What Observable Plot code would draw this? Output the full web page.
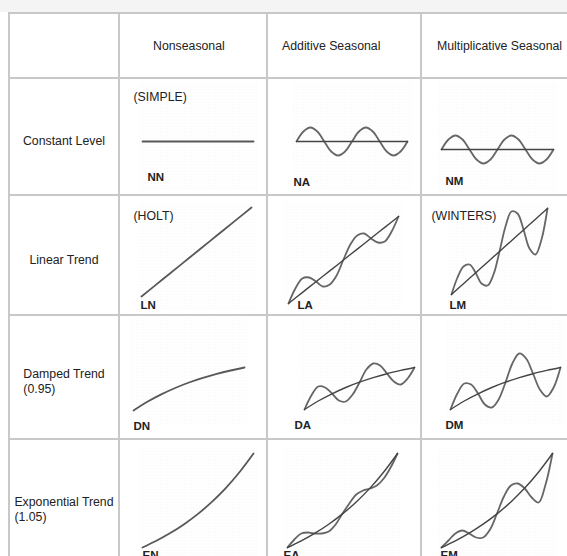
<!DOCTYPE html>
<html><head><meta charset="utf-8">
<script src="https://cdn.jsdelivr.net/npm/d3@7"></script>
<script src="https://cdn.jsdelivr.net/npm/@observablehq/plot@0.6"></script>
<style>
html,body{margin:0;padding:0;background:#fff;overflow:hidden;width:567px;height:556px;}
body{font-family:"Liberation Sans",Arial,sans-serif;color:#222;font-size:12.3px;position:relative}
#strip{position:absolute;left:0;top:0;width:567px;height:12px;background:#f4f4f4}
#grid{position:absolute;left:8px;top:12px;display:grid;grid-template-columns:108px 146px 152px 160px;grid-template-rows:63px 115px 118px 122px 130px;gap:2px;padding:2px;background:#c8c8c8}
.cell{background:#fff;position:relative;overflow:hidden}
.head{display:flex;align-items:center;box-sizing:border-box}
.rowlab{display:flex;align-items:center;justify-content:center;padding-top:10px;box-sizing:border-box}
.rowlab span{display:inline-block;text-align:left;line-height:15px}
.cell svg{display:block}
</style></head>
<body>
<svg width="0" height="0" style="position:absolute"><defs>
<pattern id="dots" width="3" height="3" patternUnits="userSpaceOnUse"><circle cx="1.5" cy="1.5" r="0.45" fill="#e2e2e2"/></pattern>
</defs></svg>
<div id="strip"></div>
<div id="grid"></div>
<script>
// ---------- data ----------
const columns = ["Nonseasonal", "Additive Seasonal", "Multiplicative Seasonal"];
const rows = ["Constant Level", "Linear Trend", "Damped Trend", "Exponential Trend"];
const rowParams = ["", "", "(0.95)", "(1.05)"];
const codes = [["NN", "NA", "NM"], ["LN", "LA", "LM"], ["DN", "DA", "DM"], ["EN", "EA", "EM"]];
const methodNames = {NN: "(SIMPLE)", LN: "(HOLT)", LM: "(WINTERS)"};

const tTrend = [0, 1, 2, 3, 4, 5, 6, 7, 8];
const tSeason = [0, 0.5, 1, 1.5, 2, 2.5, 3, 3.5, 4, 4.5, 5, 5.5, 6, 6.5, 7, 7.5, 8];

// trend components (one value per period)
const trendNN = [44, 44, 44, 44, 44, 44, 44, 44, 44];
const trendNA = [44, 44, 44, 44, 44, 44, 44, 44, 44];
const trendNM = [36, 36, 36, 36, 36, 36, 36, 36, 36];
const trendLN = [9, 20.1, 31.3, 42.4, 53.5, 64.6, 75.8, 86.9, 98];
const trendLA = [2, 12.9, 23.8, 34.6, 45.5, 56.4, 67.3, 78.1, 89];
const trendLM = [11, 21.8, 32.5, 43.3, 54, 64.8, 75.5, 86.3, 97];
const trendDN = [10, 18.7, 26.1, 32.5, 38, 42.6, 46.6, 50, 53];
const trendDA = [11, 19.5, 26.7, 33, 38.3, 42.8, 46.8, 50.1, 53];
const trendDM = [11, 19.5, 26.7, 33, 38.3, 42.8, 46.8, 50.1, 53];
const trendEN = [5, 11.7, 19.4, 28.3, 38.6, 50.6, 64.4, 80.5, 99];
const trendEA = [5, 11.7, 19.4, 28.3, 38.6, 50.6, 64.4, 80.5, 99];
const trendEM = [5, 11.7, 19.4, 28.3, 38.6, 50.6, 64.4, 80.5, 99];

// seasonal series (half-period samples)
const seasonNA = [44, 54, 58, 54, 44, 34, 30, 34, 44, 54, 58, 54, 44, 34, 30, 34, 44];
const seasonNM = [36, 46, 50, 46, 36, 26, 22, 26, 36, 46, 50, 46, 36, 26, 22, 26, 36];
const seasonLA = [2, 17, 27, 28, 24, 19, 21, 30, 46, 61, 70, 72, 67, 63, 64, 74, 89];
const seasonLM = [11, 28, 39, 41, 33, 22, 20, 31, 54, 79, 94, 92, 76, 57, 51, 66, 97];
const seasonDA = [11, 25, 34, 33, 27, 20, 19, 26, 38, 51, 57, 55, 47, 39, 36, 42, 53];
const seasonDM = [11, 27, 37, 36, 27, 16, 13, 21, 38, 57, 67, 62, 47, 31, 24, 33, 53];
const seasonEA = [5, 13, 19, 20, 19, 19, 21, 28, 39, 49, 58, 62, 64, 67, 74, 85, 99];
const seasonEM = [5, 12, 19, 22, 19, 15, 15, 23, 39, 56, 67, 69, 64, 55, 50, 68, 99];

const trends = {NN: trendNN, NA: trendNA, NM: trendNM, LN: trendLN, LA: trendLA, LM: trendLM,
  DN: trendDN, DA: trendDA, DM: trendDM, EN: trendEN, EA: trendEA, EM: trendEM};
const seasons = {NA: seasonNA, NM: seasonNM, LA: seasonLA, LM: seasonLM,
  DA: seasonDA, DM: seasonDM, EA: seasonEA, EM: seasonEM};

// ---------- layout (not data) ----------
const colWidths = [108, 146, 152, 160];
const rowHeights = [63, 115, 118, 122, 130];
const headPad = [33, 14, 15];
const rowLayout = [{mt: 6, mb: 9}, {mt: 9, mb: 9}, {mt: 4, mb: 18}, {mt: 12, mb: 18}];
const layout = {
  NN: {ml: 22, mr: 13, dx: 5, dy: -8, tx: -9, ty: 12},
  NA: {ml: 28, mr: 13, dx: -3, dy: -3},
  NM: {ml: 19, mr: 29, dx: 4, dy: -4},
  LN: {ml: 21, mr: 15, dx: -1, dy: 0, tx: -8, ty: 11},
  LA: {ml: 20, mr: 22, dx: 9, dy: 0},
  LM: {ml: 29, mr: 35, dx: -2, dy: 0, tx: -20, ty: 11},
  DN: {ml: 13, mr: 22, dx: 0, dy: 6},
  DA: {ml: 36, mr: 6, dx: -10, dy: 5},
  DM: {ml: 28, mr: 22, dx: -5, dy: 5},
  EN: {ml: 22, mr: 13, dx: 0, dy: 3},
  EA: {ml: 19, mr: 23, dx: -4, dy: 3},
  EM: {ml: 19, mr: 30, dx: -1, dy: 3}
};
const FONT = '"Liberation Sans", Arial, sans-serif';

function panel(code, r, c) {
  const L = layout[code], R = rowLayout[r];
  const trend = tTrend.map((t, i) => ({t, v: trends[code][i]}));
  const season = seasons[code] ? tSeason.map((t, i) => ({t, v: seasons[code][i]})) : null;
  const marks = [Plot.frame({fill: "url(#dots)", stroke: "none", inset: -4})];
  if (season) marks.push(Plot.line(season, {x: "t", y: "v", curve: "catmull-rom", stroke: "#666", strokeWidth: 1.8}));
  marks.push(Plot.line(trend, {x: "t", y: "v", curve: "catmull-rom",
    stroke: season ? "#444" : "#585858", strokeWidth: season ? 1.4 : 1.8}));
  marks.push(Plot.text([code], {text: d => d, frameAnchor: "bottom-left", dx: L.dx, dy: L.dy,
    textAnchor: "start", lineAnchor: "middle", fontWeight: "bold", fontSize: 11.5, fill: "#222"}));
  if (methodNames[code]) marks.push(Plot.text([methodNames[code]], {text: d => d, frameAnchor: "top-left",
    dx: L.tx, dy: L.ty, textAnchor: "start", lineAnchor: "middle", fontSize: 12.3, fill: "#222"}));
  return Plot.plot({
    width: colWidths[c + 1], height: rowHeights[r + 1],
    marginLeft: L.ml, marginRight: L.mr, marginTop: R.mt, marginBottom: R.mb,
    x: {domain: [0, 8], axis: null}, y: {domain: [0, 100], axis: null},
    style: {background: "transparent", fontFamily: FONT, overflow: "visible"},
    marks
  });
}

const grid = document.getElementById("grid");
function cell(cls) { const d = document.createElement("div"); d.className = "cell " + (cls || ""); grid.appendChild(d); return d; }
cell();
columns.forEach((name, i) => { const d = cell("head"); d.style.paddingLeft = headPad[i] + "px"; d.textContent = name; });
rows.forEach((name, r) => {
  const lab = cell("rowlab");
  const s = document.createElement("span");
  s.innerHTML = name + (rowParams[r] ? "<br>" + rowParams[r] : "");
  lab.appendChild(s);
  codes[r].forEach((code, c) => { cell().appendChild(panel(code, r, c)); });
});
</script>
</body></html>
